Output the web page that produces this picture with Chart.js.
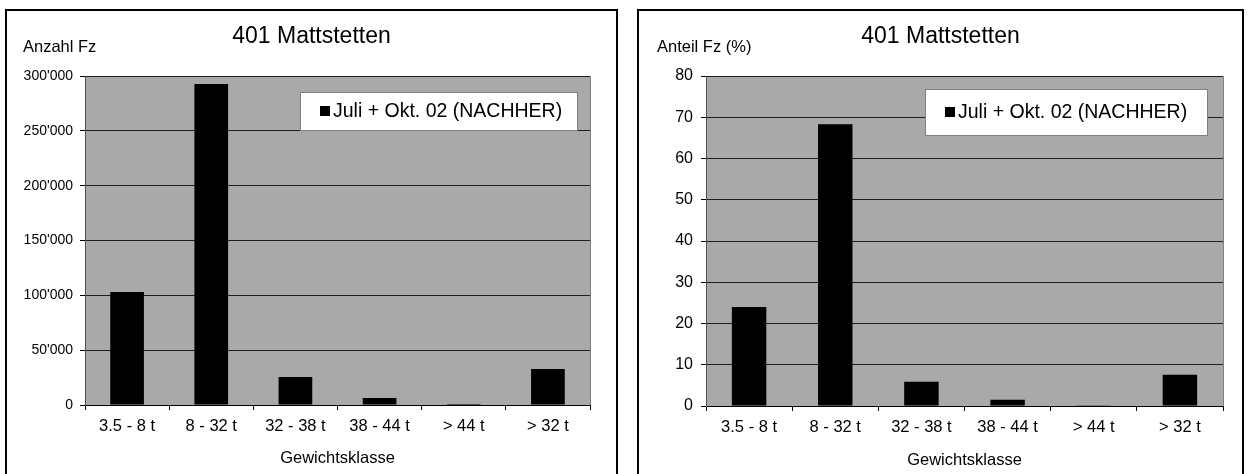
<!DOCTYPE html>
<html lang="de">
<head>
<meta charset="utf-8">
<title>401 Mattstetten</title>
<script src="https://cdn.jsdelivr.net/npm/chart.js@4/dist/chart.umd.min.js"></script>
<style>
  html, body { margin: 0; padding: 0; background: #fff; }
  #wrap { position: relative; width: 1249px; height: 474px; overflow: hidden; }
  canvas { position: absolute; top: 0; }
  #countChart { left: 0; }
  #shareChart { left: 625px; }
</style>
</head>
<body>
<div id="wrap">
  <canvas id="countChart" width="624" height="474"></canvas>
  <canvas id="shareChart" width="624" height="474"></canvas>
</div>
<script>
// data
const categories  = ['3.5 - 8 t', '8 - 32 t', '32 - 38 t', '38 - 44 t', '> 44 t', '> 32 t'];
const countValues = [103000, 292700, 25500, 6300, 1000, 32800];
const shareValues = [24.0, 68.3, 5.9, 1.5, 0.2, 7.6];
const seriesLabel = 'Juli + Okt. 02 (NACHHER)';
const chartTitle  = '401 Mattstetten';
const xTitle      = 'Gewichtsklasse';

const FONT = "'Liberation Sans', Arial, sans-serif";
const fmtThousands = v => String(v).replace(/\B(?=(\d{3})+(?!\d))/g, "'");

// draws the Excel-like frame, plot background, titles and the legend box
const excelLook = {
  id: 'excelLook',
  beforeDraw(chart, args, o) {
    const { ctx, chartArea: a } = chart;
    ctx.save();
    ctx.fillStyle = '#fff';
    ctx.fillRect(0, 0, chart.width, chart.height);
    ctx.strokeStyle = '#000';
    ctx.lineWidth = 2;
    ctx.strokeRect(o.frame[0], o.frame[1], o.frame[2] - o.frame[0], o.frame[3] - o.frame[1]);
    ctx.fillStyle = '#a9a9a9';
    ctx.fillRect(a.left, a.top, a.right - a.left, a.bottom - a.top);
    ctx.strokeStyle = '#808080';
    ctx.lineWidth = 1;
    ctx.beginPath();
    ctx.moveTo(a.left, a.top + 0.5);
    ctx.lineTo(a.right + 0.5, a.top + 0.5);
    ctx.lineTo(a.right + 0.5, a.bottom);
    ctx.stroke();
    ctx.restore();
  },
  afterDatasetsDraw(chart, args, o) {
    const { ctx, chartArea: a } = chart;
    ctx.save();
    ctx.fillStyle = '#000';
    ctx.textBaseline = 'middle';

    ctx.font = '23px ' + FONT;
    ctx.textAlign = 'center';
    ctx.fillText(chartTitle, (o.frame[0] + o.frame[2]) / 2, 37);

    ctx.font = '16.5px ' + FONT;
    ctx.fillText(xTitle, (a.left + a.right) / 2, o.xTitleY);

    ctx.textAlign = 'left';
    ctx.fillText(o.yTitle, o.yTitleX, 47);

    // legend
    const [lx, ly, lr, lb] = o.legend;
    ctx.fillStyle = '#fff';
    ctx.fillRect(lx, ly, lr - lx, lb - ly);
    ctx.strokeStyle = '#808080';
    ctx.lineWidth = 1;
    ctx.strokeRect(lx + 0.5, ly + 0.5, lr - lx, lb - ly);
    const cy = (ly + lb) / 2;
    ctx.fillStyle = '#000';
    ctx.fillRect(lx + 20, cy - 5, 10, 10);
    ctx.font = '19.5px ' + FONT;
    ctx.fillText(seriesLabel, lx + 33, cy + 1);
    ctx.restore();
  }
};

function makeChart(id, values, opts) {
  return new Chart(document.getElementById(id), {
    type: 'bar',
    data: {
      labels: categories,
      datasets: [{
        label: seriesLabel,
        data: values,
        backgroundColor: '#000',
        borderWidth: 0,
        barPercentage: 0.5,
        categoryPercentage: 0.8
      }]
    },
    options: {
      responsive: false,
      animation: false,
      layout: { padding: { top: 76, right: opts.padRight, left: 0, bottom: 0 } },
      plugins: {
        legend: { display: false },
        title: { display: false },
        tooltip: { enabled: false },
        excelLook: opts.look
      },
      scales: {
        x: {
          ticks: { font: { family: FONT, size: 16.5 }, color: '#000', padding: 7, maxRotation: 0, autoSkip: false },
          grid: { drawOnChartArea: false, tickLength: 5, color: '#000', offset: true },
          border: { color: '#000', width: 1 },
          afterFit: s => { s.height = opts.xHeight; }
        },
        y: {
          min: 0,
          max: opts.yMax,
          ticks: {
            stepSize: opts.yStep,
            font: { family: FONT, size: opts.yFont },
            color: '#000',
            padding: opts.yPad,
            callback: opts.yFmt
          },
          grid: { color: '#1e1e1e', tickLength: 5, tickColor: '#000' },
          border: { color: '#505050', width: 1 },
          afterFit: s => { s.width = opts.yWidth; }
        }
      }
    },
    plugins: [excelLook]
  });
}

makeChart('countChart', countValues, {
  padRight: 34, xHeight: 69, yWidth: 85, yMax: 300000, yStep: 50000, yFont: 14, yPad: 7,
  yFmt: v => fmtThousands(v),
  look: { frame: [6, 10, 617, 480], yTitle: 'Anzahl Fz', yTitleX: 23, xTitleY: 458, legend: [300, 92, 577, 130] }
});

makeChart('shareChart', shareValues, {
  padRight: 26, xHeight: 68, yWidth: 81, yMax: 80, yStep: 10, yFont: 16, yPad: 8,
  yFmt: v => v,
  look: { frame: [13, 10, 618, 480], yTitle: 'Anteil Fz (%)', yTitleX: 32, xTitleY: 460, legend: [300, 89, 582, 135] }
});
</script>
</body>
</html>
